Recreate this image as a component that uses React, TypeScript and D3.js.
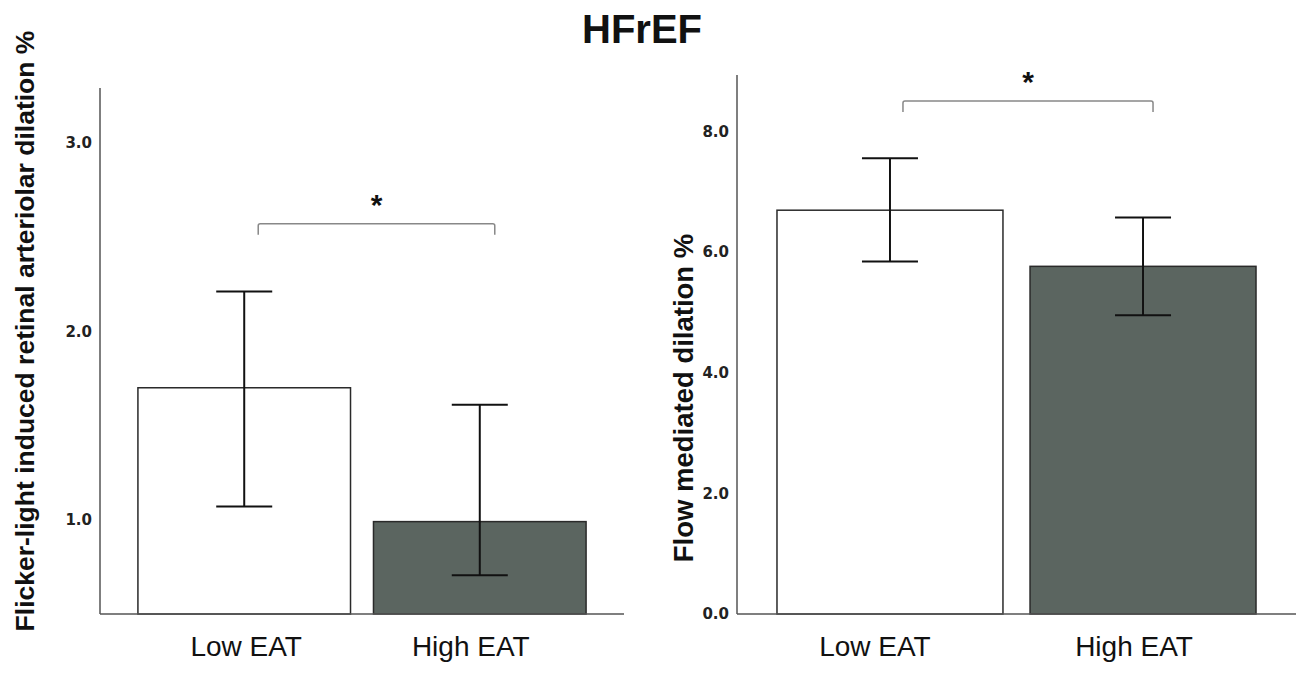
import React from "react";
import * as d3 from "d3";

// ---- Data ----
const categories = ["Low EAT", "High EAT"];
const flickerMeans = [1.70, 0.99];
const flickerLower = [1.07, 0.705];
const flickerUpper = [2.21, 1.61];
const fmdMeans = [6.69, 5.76];
const fmdLower = [5.84, 4.95];
const fmdUpper = [7.55, 6.57];
const flickerTicks = [1.0, 2.0, 3.0];
const fmdTicks = [0.0, 2.0, 4.0, 6.0, 8.0];
const flickerDomain = [0.5, 3.29];
const fmdDomain = [0, 8.93];
const flickerBracketLevel = 2.57;
const fmdBracketLevel = 8.5;
const sigMark = "*";
const title = "HFrEF";
const flickerTitle = "Flicker-light induced retinal arteriolar dilation %";
const fmdTitle = "Flow mediated dilation %";

const W = 1296;
const H = 698;
const barFills = ["#ffffff", "#5b6560"];
const tickFont = "'DejaVu Sans', Verdana, sans-serif";
const mainFont = "'Liberation Sans', Arial, sans-serif";

type PanelProps = {
  x0: number; x1: number; yTop: number; yBottom: number;
  domain: number[]; ticks: number[];
  means: number[]; lower: number[]; upper: number[];
  padInner: number; padOuter: number;
  bracketLevel: number; bracketOffset: number[];
  labelOffset: number[];
  yTitle: string; yTitleX: number; yTitleY: number; yTitleSize: number;
};

function Panel(p: PanelProps) {
  const x = d3.scaleBand<string>().domain(categories).range([p.x0, p.x1])
    .paddingInner(p.padInner).paddingOuter(p.padOuter);
  const y = d3.scaleLinear().domain(p.domain).range([p.yBottom, p.yTop]);
  const bw = x.bandwidth();
  const cap = 28;
  const fmt = d3.format(".1f");
  const cx = (c: string) => (x(c) as number) + bw / 2;
  const bx1 = cx(categories[0]) + p.bracketOffset[0];
  const bx2 = cx(categories[1]) + p.bracketOffset[1];
  const by = y(p.bracketLevel);
  const r = 2;
  const bracketPath = `M${bx1},${by + 11} L${bx1},${by + r} Q${bx1},${by} ${bx1 + r},${by} L${bx2 - r},${by} Q${bx2},${by} ${bx2},${by + r} L${bx2},${by + 11}`;
  return (
    <g>
      {categories.map((c, i) => (
        <rect key={c} x={x(c)} y={y(p.means[i])} width={bw}
          height={p.yBottom - y(p.means[i])}
          fill={barFills[i]} stroke="#2a2a2a" strokeWidth={1.5} />
      ))}
      {categories.map((c, i) => (
        <g key={"e" + c} stroke="#111" strokeWidth={2}>
          <line x1={cx(c)} x2={cx(c)} y1={y(p.upper[i])} y2={y(p.lower[i])} />
          <line x1={cx(c) - cap} x2={cx(c) + cap} y1={y(p.upper[i])} y2={y(p.upper[i])} />
          <line x1={cx(c) - cap} x2={cx(c) + cap} y1={y(p.lower[i])} y2={y(p.lower[i])} />
        </g>
      ))}
      <line x1={p.x0} x2={p.x0} y1={p.yTop} y2={p.yBottom} stroke="#555" strokeWidth={1.5} />
      <line x1={p.x0} x2={p.x1} y1={p.yBottom} y2={p.yBottom} stroke="#555" strokeWidth={1.5} />
      {p.ticks.map((t) => (
        <text key={t} x={p.x0 - 8} y={y(t)} dy="0.36em" textAnchor="end"
          fontFamily={tickFont} fontWeight="bold" fontSize={15} fill="#222">{fmt(t)}</text>
      ))}
      {categories.map((c, i) => (
        <text key={"l" + c} x={cx(c) + p.labelOffset[i]} y={656} textAnchor="middle"
          fontFamily={mainFont} fontSize={28} fill="#111">{c}</text>
      ))}
      <path d={bracketPath} fill="none" stroke="#888" strokeWidth={1.5} />
      <text x={(bx1 + bx2) / 2} y={by - 9} textAnchor="middle" fontFamily={mainFont}
        fontWeight="bold" fontSize={30} fill="#111">{sigMark}</text>
      <text transform={`translate(${p.yTitleX},${p.yTitleY}) rotate(-90)`} textAnchor="middle"
        dy="0.35em" fontFamily={mainFont} fontWeight="bold" fontSize={p.yTitleSize} fill="#111">{p.yTitle}</text>
    </g>
  );
}

export default function App() {
  return (
    <svg width={W} height={H} style={{ position: "absolute", left: 0, top: 0, background: "#fff" }}>
      <rect width={W} height={H} fill="#fff" />
      <text x={642} y={43} textAnchor="middle" fontFamily={mainFont} fontWeight="bold"
        fontSize={40} fill="#111">{title}</text>
      <Panel x0={100} x1={624} yTop={88} yBottom={614} domain={flickerDomain} ticks={flickerTicks}
        means={flickerMeans} lower={flickerLower} upper={flickerUpper}
        padInner={0.0975} padOuter={0.161} bracketLevel={flickerBracketLevel}
        bracketOffset={[14, 15]} labelOffset={[2, -9]}
        yTitle={flickerTitle} yTitleX={25} yTitleY={331} yTitleSize={26.5} />
      <Panel x0={737} x1={1296} yTop={75} yBottom={614} domain={fmdDomain} ticks={fmdTicks}
        means={fmdMeans} lower={fmdLower} upper={fmdUpper}
        padInner={0.107} padOuter={0.158} bracketLevel={fmdBracketLevel}
        bracketOffset={[13, 10]} labelOffset={[-15, -9]}
        yTitle={fmdTitle} yTitleX={683} yTitleY={398} yTitleSize={27.5} />
    </svg>
  );
}
